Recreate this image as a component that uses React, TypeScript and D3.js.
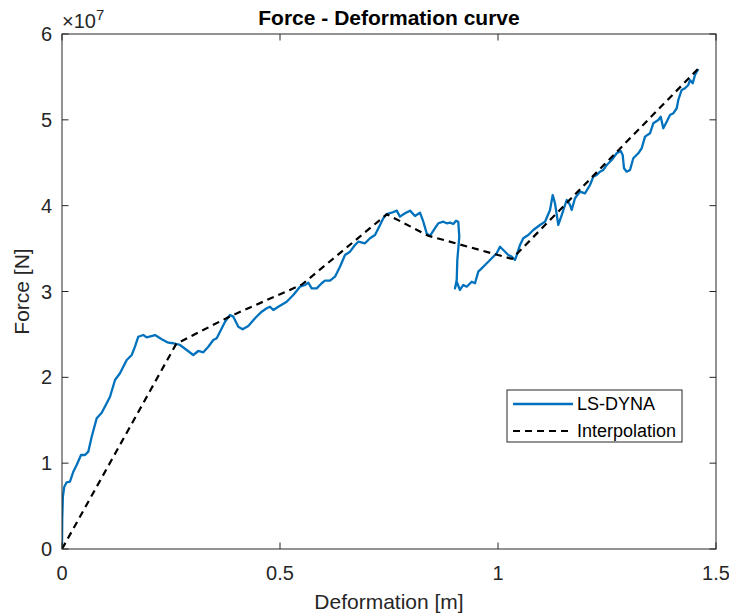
import React from "react";
import * as d3 from "d3";

// LS-DYNA simulated response: deformation [m]
const dynaDeformation = [
  0, 0.0005, 0.002, 0.0053, 0.0108, 0.0183, 0.0259, 0.0337, 0.0436, 0.0528,
  0.0603, 0.0681, 0.0796, 0.0911, 0.1025, 0.1101, 0.1216, 0.133, 0.1484, 0.1599,
  0.1674, 0.175, 0.1865, 0.1943, 0.2133, 0.2287, 0.2438, 0.2553, 0.2706, 0.286,
  0.3011, 0.3126, 0.3241, 0.3356, 0.347, 0.3548, 0.3624, 0.3739, 0.3853, 0.3929,
  0.4044, 0.4144, 0.4273, 0.4427, 0.458, 0.4695, 0.4771, 0.4846, 0.4961, 0.5154,
  0.5305, 0.5459, 0.5573, 0.5649, 0.5727, 0.5842, 0.5956, 0.6032, 0.6147, 0.6261,
  0.6376, 0.6491, 0.6606, 0.672, 0.6796, 0.695, 0.7064, 0.7179, 0.7294, 0.7369,
  0.7447, 0.7562, 0.7677, 0.7752, 0.7867, 0.7982, 0.8096, 0.8211, 0.8287, 0.8365,
  0.844, 0.8555, 0.8631, 0.8745, 0.8823, 0.8899, 0.8975, 0.9037, 0.9089, 0.9112,
  0.9067, 0.9053, 0.9014, 0.9053, 0.9128, 0.9204, 0.9282, 0.9397, 0.9472, 0.9548,
  0.9626, 0.9702, 0.9778, 0.9855, 0.997, 1.0046, 1.0122, 1.0236, 1.0314, 1.039,
  1.0429, 1.0505, 1.058, 1.0695, 1.081, 1.0963, 1.1078, 1.1193, 1.1255, 1.1307,
  1.1383, 1.1461, 1.1576, 1.1651, 1.169, 1.1766, 1.1881, 1.1995, 1.211, 1.2186,
  1.2264, 1.2339, 1.2415, 1.2493, 1.2608, 1.2722, 1.2814, 1.286, 1.289, 1.2952,
  1.3028, 1.3103, 1.3218, 1.3296, 1.3372, 1.3486, 1.3562, 1.3677, 1.3732, 1.3791,
  1.3869, 1.3945, 1.4021, 1.4099, 1.4135, 1.4213, 1.4289, 1.4365, 1.4404, 1.4466,
  1.4518, 1.4594,
];

// LS-DYNA simulated response: force [x 1e7 N]
const dynaForce = [
  0, 0.34, 0.61, 0.726, 0.777, 0.784, 0.9, 0.979, 1.095, 1.095,
  1.134, 1.308, 1.523, 1.588, 1.698, 1.774, 1.969, 2.047, 2.202, 2.26,
  2.357, 2.473, 2.493, 2.466, 2.493, 2.443, 2.404, 2.397, 2.377, 2.319,
  2.26, 2.307, 2.292, 2.357, 2.435, 2.455, 2.532, 2.648, 2.726, 2.707,
  2.59, 2.56, 2.598, 2.688, 2.765, 2.804, 2.823, 2.785, 2.823, 2.881,
  2.959, 3.056, 3.076, 3.103, 3.037, 3.037, 3.096, 3.126, 3.126, 3.173,
  3.289, 3.425, 3.464, 3.542, 3.58, 3.562, 3.62, 3.658, 3.775, 3.853,
  3.903, 3.918, 3.942, 3.872, 3.911, 3.942, 3.88, 3.918, 3.813, 3.678,
  3.647, 3.737, 3.795, 3.813, 3.795, 3.802, 3.787, 3.825, 3.813, 3.639,
  3.367, 3.134, 3.037, 3.114, 3.018, 3.076, 3.056, 3.114, 3.096, 3.231,
  3.27, 3.309, 3.347, 3.387, 3.445, 3.522, 3.484, 3.425, 3.406, 3.367,
  3.425, 3.542, 3.62, 3.658, 3.717, 3.775, 3.813, 3.95, 4.124, 4.028,
  3.775, 3.891, 4.066, 4.008, 3.95, 4.086, 4.163, 4.144, 4.241, 4.338,
  4.357, 4.396, 4.416, 4.474, 4.532, 4.61, 4.637, 4.59, 4.436, 4.396,
  4.416, 4.552, 4.61, 4.669, 4.804, 4.843, 4.96, 4.998, 5.037, 4.902,
  4.978, 5.057, 5.076, 5.135, 5.231, 5.348, 5.368, 5.406, 5.464, 5.426,
  5.523, 5.593,
];

// Piecewise-linear interpolation knots
const interpDeformation = [0, 0.262, 0.385, 0.55, 0.745, 0.84, 1.032, 1.458];
const interpForce = [0, 2.39, 2.71, 3.08, 3.9, 3.65, 3.38, 5.59];

const xTicks = [0, 0.5, 1, 1.5];
const yTicks = [0, 1, 2, 3, 4, 5, 6];
const legendLabels = ["LS-DYNA", "Interpolation"];

const W = 729;
const H = 616;
const M = { left: 62, right: 716, top: 34, bottom: 549 };
const FONT = "'Liberation Sans', Arial, Helvetica, sans-serif";
const INK = "#262626";
const BLUE = "#0072BD";
const TICK = 6.5;

export default function App() {
  const x = d3.scaleLinear().domain([0, 1.5]).range([M.left, M.right]);
  const y = d3.scaleLinear().domain([0, 6]).range([M.bottom, M.top]);

  const line = d3
    .line<[number, number]>()
    .x((d) => x(d[0]))
    .y((d) => y(d[1]));

  const dyna = dynaDeformation.map((d, i) => [d, dynaForce[i]] as [number, number]);
  const interp = interpDeformation.map((d, i) => [d, interpForce[i]] as [number, number]);

  const lx = 507;
  const ly = 390;
  const lw = 175;
  const lh = 52;

  return (
    <svg
      width={W}
      height={H}
      style={{ position: "absolute", left: 0, top: 0, background: "#fff" }}
      fontFamily={FONT}
    >
      <rect x={0} y={0} width={W} height={H} fill="#fff" />
      <defs>
        <clipPath id="plot-clip">
          <rect x={M.left} y={M.top} width={M.right - M.left} height={M.bottom - M.top} />
        </clipPath>
      </defs>

      {/* curves */}
      <g clipPath="url(#plot-clip)">
        <path d={line(dyna) ?? ""} fill="none" stroke={BLUE} strokeWidth={2.3} strokeLinejoin="round" />
        <path
          d={line(interp) ?? ""}
          fill="none"
          stroke="#000"
          strokeWidth={2.2}
          strokeDasharray="7,5"
        />
      </g>

      {/* box */}
      <rect
        x={M.left}
        y={M.top}
        width={M.right - M.left}
        height={M.bottom - M.top}
        fill="none"
        stroke={INK}
        strokeWidth={1}
      />

      {/* x ticks */}
      {xTicks.map((t) => (
        <g key={`x${t}`}>
          <line x1={x(t)} x2={x(t)} y1={M.bottom} y2={M.bottom - TICK} stroke={INK} />
          <line x1={x(t)} x2={x(t)} y1={M.top} y2={M.top + TICK} stroke={INK} />
          <text x={x(t)} y={580} textAnchor="middle" fontSize={20} fill={INK}>
            {d3.format("~g")(t)}
          </text>
        </g>
      ))}

      {/* y ticks */}
      {yTicks.map((t) => (
        <g key={`y${t}`}>
          <line x1={M.left} x2={M.left + TICK} y1={y(t)} y2={y(t)} stroke={INK} />
          <line x1={M.right} x2={M.right - TICK} y1={y(t)} y2={y(t)} stroke={INK} />
          <text x={52} y={y(t)} dy="0.35em" textAnchor="end" fontSize={20} fill={INK}>
            {t}
          </text>
        </g>
      ))}

      {/* exponent */}
      <text x={62} y={28} fontSize={20} fill={INK}>
        ×10
        <tspan dy={-8} fontSize={15}>
          7
        </tspan>
      </text>

      {/* title and axis labels */}
      <text x={(M.left + M.right) / 2} y={25} textAnchor="middle" fontSize={21} fontWeight="bold" fill="#000">
        Force - Deformation curve
      </text>
      <text x={(M.left + M.right) / 2} y={609} textAnchor="middle" fontSize={21} fill={INK}>
        Deformation [m]
      </text>
      <text
        transform={`translate(29, ${(M.top + M.bottom) / 2}) rotate(-90)`}
        textAnchor="middle"
        fontSize={21}
        fill={INK}
      >
        Force [N]
      </text>

      {/* legend */}
      <g>
        <rect x={lx} y={ly} width={lw} height={lh} fill="#fff" stroke={INK} strokeWidth={1} />
        <line x1={lx + 6} x2={lx + 66} y1={ly + 14} y2={ly + 14} stroke={BLUE} strokeWidth={2.3} />
        <line
          x1={lx + 6}
          x2={lx + 66}
          y1={ly + 41}
          y2={ly + 41}
          stroke="#000"
          strokeWidth={2.2}
          strokeDasharray="7,5"
        />
        <text x={lx + 70} y={ly + 14} dy="0.35em" fontSize={18} fill="#000">
          {legendLabels[0]}
        </text>
        <text x={lx + 70} y={ly + 41} dy="0.35em" fontSize={18} fill="#000">
          {legendLabels[1]}
        </text>
      </g>
    </svg>
  );
}
